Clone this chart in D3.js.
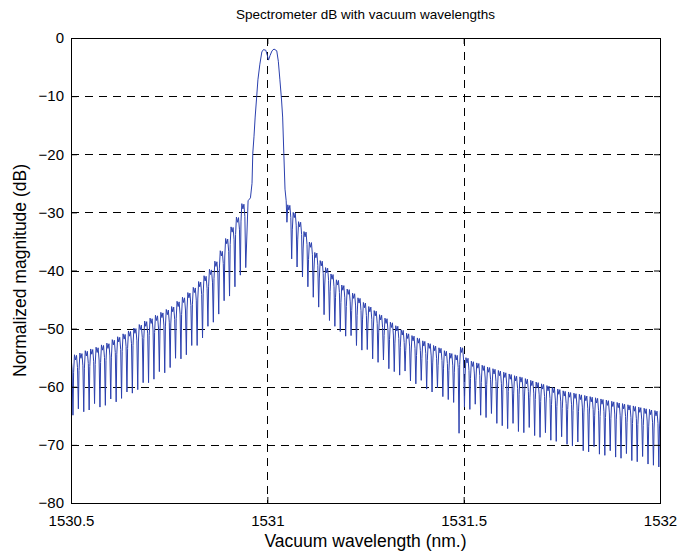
<!DOCTYPE html>
<html><head><meta charset="utf-8">
<script src="https://cdn.jsdelivr.net/npm/d3@7"></script>
<style>body{margin:0;background:#fff}svg{display:block}text{font-family:"Liberation Sans",Arial,sans-serif;fill:#000}</style>
</head><body><div id="chart"></div>
<script>
const title = "Spectrometer dB with vacuum wavelengths";
const xLabel = "Vacuum wavelength (nm.)";
const yLabel = "Normalized magnitude (dB)";
const xTicks = [1530.5, 1531, 1531.5, 1532];
const yTicks = [0, -10, -20, -30, -40, -50, -60, -70, -80];

// fringe spacing (nm) and first dip wavelength for each side lobe
const fringeSpacing = 0.01375;
const leftFirstDip = 1530.505;
const rightFirstDip = 1531.062;

// left side lobe: fringe tops and dips (dB)
const leftPeakDb = [-54.9,-54.5,-54.2,-53.8,-53.5,-53.2,-52.8,-52.5,-51.9,-51.4,-50.9,-50.4,-49.9,-49.3,-48.7,-48.2,-47.7,-47.2,-46.7,-46.2,-45.3,-44.6,-43.8,-42.9,-41.9,-40.9,-39.8,-38.4,-36.6,-34.5,-32.5,-30.8,-28.5];
const leftDipDb = [-64.9,-63.8,-64.3,-64.0,-62.9,-63.5,-63.2,-62.1,-62.6,-62.0,-60.9,-61.1,-60.5,-59.3,-59.3,-58.7,-57.4,-57.6,-56.7,-55.1,-55.2,-54.5,-52.9,-52.9,-51.6,-49.6,-48.9,-47.5,-45.2,-44.4,-42.8,-40.8,-39.5];

// main reflection peak
const mainNm = [1530.951,1530.957,1530.961,1530.963,1530.966,1530.969,1530.973,1530.976,1530.981,1530.986,1530.990,1530.996,1531.000,1531.003,1531.007,1531.012,1531.017,1531.024,1531.028,1531.032,1531.036,1531.039,1531.042,1531.045,1531.048];
const mainDb = [-28.0,-27.5,-25.0,-19.8,-17.0,-13.6,-10.0,-7.2,-4.5,-2.4,-2.0,-2.1,-3.0,-3.8,-3.0,-2.2,-1.9,-2.2,-4.0,-7.2,-10.5,-13.6,-19.8,-26.0,-28.0];

// right side lobe: fringe tops and dips (dB)
const rightPeakDb = [-28.7,-30.0,-31.6,-33.3,-35.1,-36.9,-38.3,-39.5,-40.6,-41.6,
 -42.5,-43.2,-43.9,-44.7,-45.5,-46.2,-46.9,-47.6,-48.2,-48.9,
 -49.5,-50.2,-50.8,-51.2,-51.6,-52.1,-52.5,-52.9,-53.3,-53.8,
 -54.2,-54.5,-53.2,-55.0,-55.6,-55.9,-56.3,-56.6,-56.9,-57.2,
 -57.5,-57.8,-58.1,-58.3,-58.6,-58.9,-59.2,-59.5,-59.8,-60.1,
 -60.4,-60.7,-60.9,-61.1,-61.3,-61.5,-61.7,-61.9,-62.1,-62.3,
 -62.5,-62.7,-62.9,-63.1,-63.3,-63.5,-63.7,-63.9,-64.1];
const rightDipDb = [-38.0,-39.4,-41.1,-42.8,-44.6,-46.3,-47.6,-48.6,-49.6,-50.5,
 -51.3,-51.2,-52.9,-53.7,-53.6,-55.2,-55.8,-55.4,-56.9,-57.4,
 -58.0,-57.3,-59.0,-59.5,-58.9,-60.4,-60.9,-60.2,-61.7,-62.2,
 -62.7,-68.0,-63.5,-63.9,-63.0,-64.9,-65.3,-64.6,-66.3,-66.7,
 -67.2,-66.3,-67.7,-67.9,-67.0,-68.4,-68.7,-67.9,-69.2,-69.4,
 -68.6,-69.9,-70.2,-69.5,-71.0,-71.2,-70.3,-71.6,-71.8,-71.0,
 -72.1,-72.3,-71.5,-72.7,-72.9,-72.0,-73.3,-73.5,-73.8];

const W = 682, H = 555;
const m = {left: 71, right: 22, top: 38, bottom: 52};
const iw = W - m.left - m.right, ih = H - m.top - m.bottom;

const x = d3.scaleLinear().domain([1530.5, 1532]).range([0, iw]);
const y = d3.scaleLinear().domain([-80, 0]).range([ih, 0]);

// build the trace: each fringe = rounded top followed by a narrow dip
function lobe(firstDip, peaks, dips, tail) {
  const p = fringeSpacing, pts = [];
  peaks.forEach((pk, k) => {
    const d = firstDip + k * p, s = d - p;
    pts.push([s + 0.12 * p, pk - 3]);
    pts.push([s + 0.28 * p, pk]);
    pts.push([s + 0.48 * p, pk - 0.9]);
    pts.push([s + 0.66 * p, pk - 0.1]);
    pts.push([s + 0.84 * p, pk - 2.2]);
    pts.push([d, dips[k]]);
  });
  if (tail) {
    const d = firstDip + (peaks.length - 1) * p;
    pts.push([d + 0.12 * p, peaks[peaks.length - 1] - 3]);
    pts.push([d + 0.28 * p, peaks[peaks.length - 1]]);
  }
  return pts;
}
const trace = [].concat(
  lobe(leftFirstDip, leftPeakDb, leftDipDb, false),
  mainNm.map((n, i) => [n, mainDb[i]]),
  lobe(rightFirstDip, rightPeakDb, rightDipDb, true)
);

const svg = d3.select("#chart").append("svg").attr("width", W).attr("height", H);
svg.append("rect").attr("width", W).attr("height", H).attr("fill", "#fff");
svg.append("defs").append("clipPath").attr("id", "clip")
  .append("rect").attr("width", iw).attr("height", ih);

const g = svg.append("g").attr("transform", `translate(${m.left},${m.top})`);

// grid
g.append("g").selectAll("line").data(xTicks.slice(1, -1)).join("line")
  .attr("x1", d => Math.round(x(d)) + 0.5).attr("x2", d => Math.round(x(d)) + 0.5)
  .attr("y1", 0).attr("y2", ih)
  .attr("stroke", "#000").attr("stroke-dasharray", "8,6").attr("stroke-width", 1);
g.append("g").selectAll("line").data(yTicks.slice(1, -1)).join("line")
  .attr("y1", d => Math.round(y(d)) + 0.5).attr("y2", d => Math.round(y(d)) + 0.5)
  .attr("x1", 0).attr("x2", iw)
  .attr("stroke", "#000").attr("stroke-dasharray", "8,6").attr("stroke-width", 1);

// data line
g.append("path").datum(trace).attr("clip-path", "url(#clip)")
  .attr("fill", "none").attr("stroke", "#2b40ae").attr("stroke-width", 1)
  .attr("d", d3.line().x(d => x(d[0])).y(d => y(d[1])));

// axes (ticks inside, box)
const fmtX = d => d3.format("")(d);
const ax = g.append("g").attr("transform", `translate(0,${ih})`)
  .call(d3.axisBottom(x).tickValues(xTicks).tickSizeInner(-6).tickSizeOuter(0).tickPadding(12).tickFormat(fmtX));
const ay = g.append("g")
  .call(d3.axisLeft(y).tickValues(yTicks).tickSizeInner(-6).tickSizeOuter(0).tickPadding(7).tickFormat(d3.format("d")));
g.append("g").call(d3.axisTop(x).tickValues(xTicks).tickSizeInner(-6).tickSizeOuter(0).tickFormat(""));
g.append("g").attr("transform", `translate(${iw},0)`)
  .call(d3.axisRight(y).tickValues(yTicks).tickSizeInner(-6).tickSizeOuter(0).tickFormat(""));
svg.selectAll(".domain").attr("stroke", "#000");
svg.selectAll(".tick line").attr("stroke", "#000");
ax.selectAll("text").attr("font-size", 15);
ay.selectAll("text").attr("font-size", 15);
g.append("rect").attr("x", 0.5).attr("y", 0.5).attr("width", iw).attr("height", ih)
  .attr("fill", "none").attr("stroke", "#000");

svg.append("text").attr("x", m.left + iw / 2).attr("y", 19).attr("text-anchor", "middle")
  .attr("font-size", 13.5).text(title);
svg.append("text").attr("x", m.left + iw / 2).attr("y", 547).attr("text-anchor", "middle")
  .attr("font-size", 17.5).text(xLabel);
svg.append("text").attr("transform", `translate(26,${m.top + ih / 2}) rotate(-90)`)
  .attr("text-anchor", "middle").attr("font-size", 17.5).text(yLabel);
</script></body></html>
